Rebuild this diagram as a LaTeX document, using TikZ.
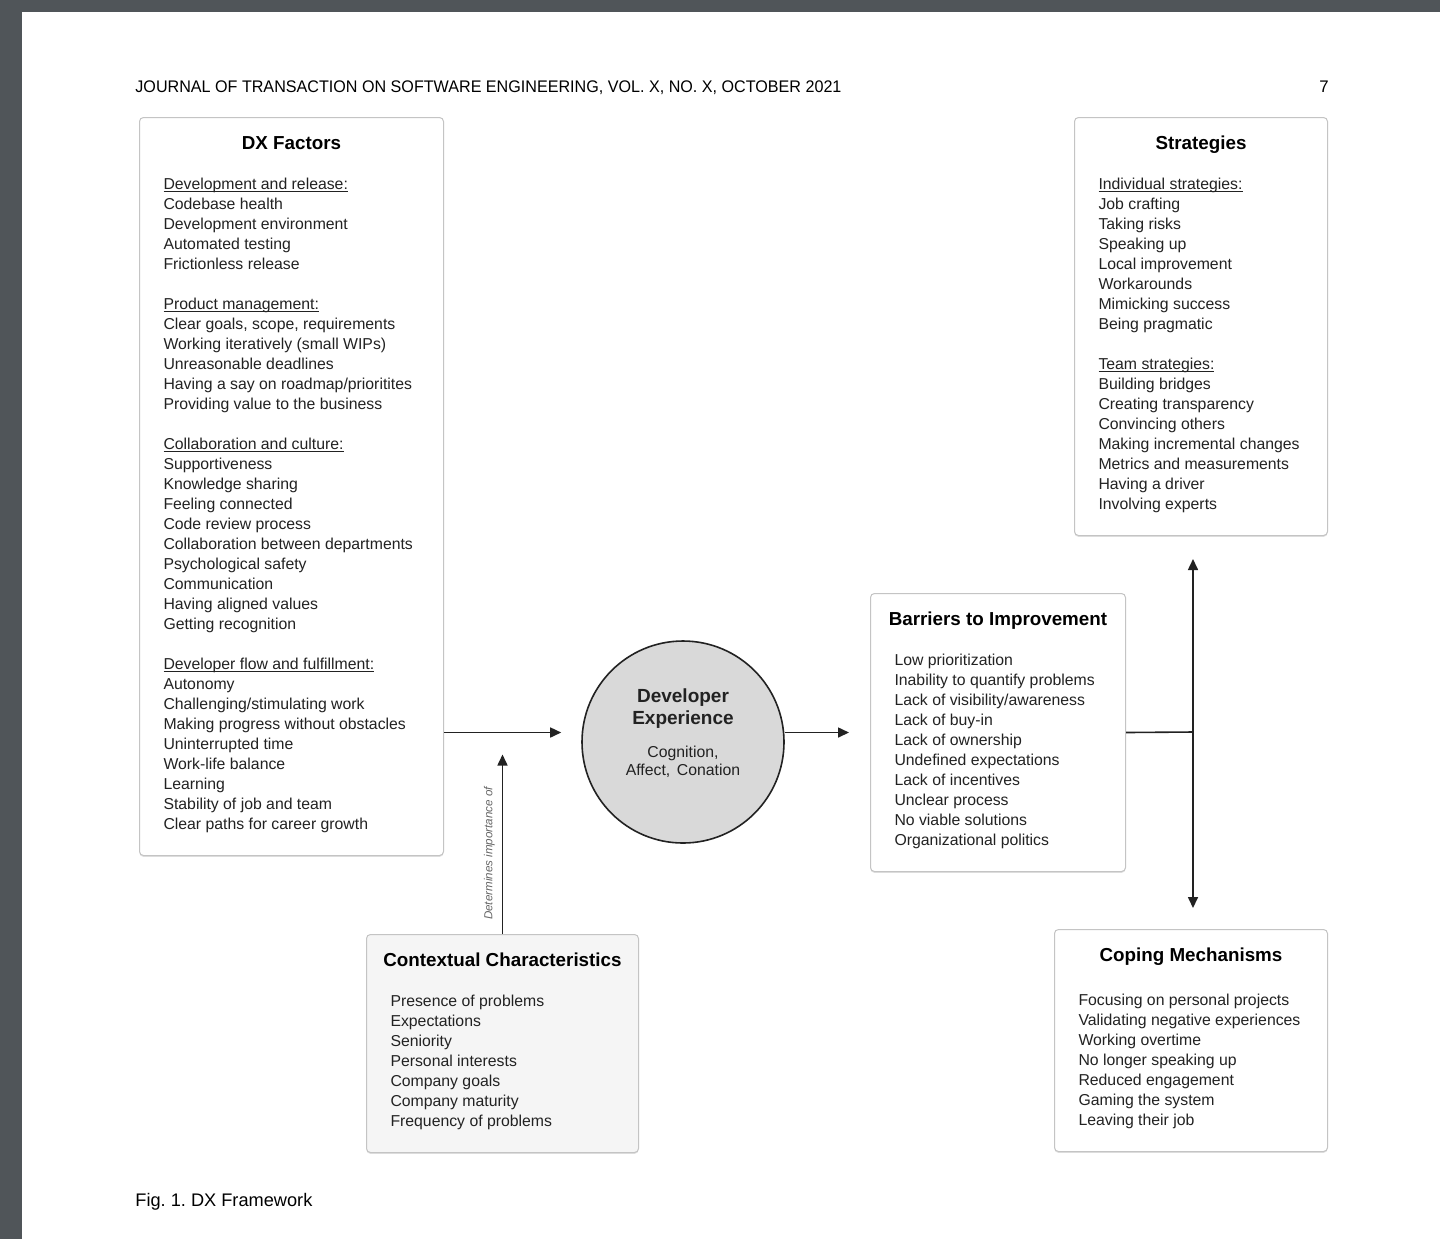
\documentclass[tikz,border=0pt]{standalone}
\usepackage{fontspec}
\setmainfont{Liberation Sans}
\usepackage{graphicx}
\usetikzlibrary{matrix, calc, positioning, arrows.meta, shadows}
\frenchspacing
\definecolor{ink}{HTML}{222222}
\definecolor{frame}{HTML}{C4C4C4}
\definecolor{desk}{HTML}{505559}
\definecolor{ctxfill}{HTML}{F5F5F5}
\definecolor{corefill}{HTML}{D9D9D9}
\newcommand{\listfont}{\fontsize{7.9}{10}\selectfont}
\newcommand{\panelfont}{\fontsize{9.4}{11}\selectfont\bfseries}
\newcommand{\subhead}[1]{\setbox0\hbox{#1}\rlap{\rule[-1.3pt]{\wd0}{0.35pt}}\box0}
\newcommand{\boxtitle}[1]{\makebox[0pt]{#1}}
\tikzset{
panel/.style={
  matrix of nodes,
  draw=frame, line width=0.5pt, rounded corners=2pt, fill=white,
  drop shadow={shadow xshift=0pt, shadow yshift=-0.7pt, opacity=0.3, fill=black!40},
  inner xsep=12pt, inner ysep=0pt,
  row sep=0pt,
  nodes={inner sep=0pt, anchor=base west, text height=7pt, text depth=3pt, font=\listfont, text=ink},
  nodes in empty cells
},
row 1/.style={nodes={font=\panelfont, text=black, text height=16pt, text depth=13pt}},
panel width/.style={row 1/.append style={nodes={minimum width=#1}}},
core/.style={circle, draw=ink, line width=0.8pt, fill=corefill, minimum size=101pt,
  inner sep=0pt, text width=70pt, align=center, text=ink},
flow/.style={draw=ink, line width=0.8pt, -{Triangle[length=5.5pt, width=5pt]}},
link/.style={draw=ink, line width=0.8pt},
note/.style={font=\itshape\fontsize{5.8}{7}\selectfont, text=black!60, inner xsep=0pt, inner ysep=3.5pt},
pagehead/.style={font=\fontsize{8.4}{10}\selectfont, text=black, inner sep=0pt},
caption/.style={font=\fontsize{9.1}{11}\selectfont, text=black, inner sep=0pt}
}

\begin{document}
\begin{tikzpicture}[x=0.5pt, y=-0.5pt]
\useasboundingbox (0,0) rectangle (1440,1239);
\fill[desk] (0,0) rectangle (1440,1239);
\fill[white] (22,12) rectangle (1440,1239);

% running head
\node[pagehead, anchor=base west] (journal) at (135,92) {\resizebox{353pt}{\height}{JOURNAL OF TRANSACTION ON SOFTWARE ENGINEERING, VOL. X, NO. X, OCTOBER 2021}};
\node[pagehead, anchor=base east] (pageno) at (1329,92) {7};

% DX factors
\matrix (dx) [panel, panel width=128pt, anchor=north west] at (139,117) {
  \boxtitle{DX Factors} \\
  \subhead{Development and release:} \\
  Codebase health \\
  Development environment \\
  Automated testing \\
  Frictionless release \\
  \\
  \subhead{Product management:} \\
  Clear goals, scope, requirements \\
  Working iteratively (small WIPs) \\
  Unreasonable deadlines \\
  Having a say on roadmap/prioritites \\
  Providing value to the business \\
  \\
  \subhead{Collaboration and culture:} \\
  Supportiveness \\
  Knowledge sharing \\
  Feeling connected \\
  Code review process \\
  Collaboration between departments \\
  Psychological safety \\
  Communication \\
  Having aligned values \\
  Getting recognition \\
  \\
  \subhead{Developer flow and fulfillment:} \\
  Autonomy \\
  Challenging/stimulating work \\
  Making progress without obstacles \\
  Uninterrupted time \\
  Work-life balance \\
  Learning \\
  Stability of job and team \\
  Clear paths for career growth \\
  \\
};

% strategies
\matrix (strat) [panel, panel width=102.5pt, anchor=north west] at (1074,117) {
  \boxtitle{Strategies} \\
  \subhead{Individual strategies:} \\
  Job crafting \\
  Taking risks \\
  Speaking up \\
  Local improvement \\
  Workarounds \\
  Mimicking success \\
  Being pragmatic \\
  \\
  \subhead{Team strategies:} \\
  Building bridges \\
  Creating transparency \\
  Convincing others \\
  Making incremental changes \\
  Metrics and measurements \\
  Having a driver \\
  Involving experts \\
  \\
};

% barriers
\matrix (barrier) [panel, panel width=103.5pt, anchor=north west] at (870,593) {
  \boxtitle{Barriers to Improvement} \\
  Low prioritization \\
  Inability to quantify problems \\
  Lack of visibility/awareness \\
  Lack of buy-in \\
  Lack of ownership \\
  Undefined expectations \\
  Lack of incentives \\
  Unclear process \\
  No viable solutions \\
  Organizational politics \\
  \\
};

% contextual characteristics
\matrix (ctx) [panel, panel width=112pt, fill=ctxfill, anchor=north west] at (366,934) {
  \boxtitle{Contextual Characteristics} \\
  Presence of problems \\
  Expectations \\
  Seniority \\
  Personal interests \\
  Company goals \\
  Company maturity \\
  Frequency of problems \\
  \\
};

% coping mechanisms
\matrix (cope) [panel, panel width=112.5pt, row 1/.append style={nodes={text depth=15pt}}, anchor=north west] at (1054,929) {
  \boxtitle{Coping Mechanisms} \\
  Focusing on personal projects \\
  Validating negative experiences \\
  Working overtime \\
  No longer speaking up \\
  Reduced engagement \\
  Gaming the system \\
  Leaving their job \\
  \\
};

% developer experience
\node[core] (dxp) at (683,742) {%
  {\fontsize{9.5}{11}\selectfont\bfseries Developer\\Experience\par}\vspace{7.5pt}%
  {\fontsize{7.9}{9}\selectfont \mbox{Cognition,}\\\mbox{Affect, Conation}\par}\vspace{9pt}};

% connectors
\coordinate (split) at (1193,732);
\draw[flow, shorten >=10pt] (dx.east |- barrier.west) -- (dxp.west |- barrier.west);
\draw[flow, shorten >=10.5pt] (dxp.east |- barrier.west) -- (barrier.west);
\draw[flow, shorten >=11pt] (ctx.north) -- node[note, pos=0.4, rotate=90, anchor=south] {Determines importance of} (ctx.north |- barrier.west);
\draw[link] (barrier.east) -- (split);
\draw[flow, shorten >=11.5pt] (split) -- (split |- strat.south);
\draw[flow, shorten >=10.5pt] (split) -- (split |- cope.north);

% caption
\node[caption, anchor=base west] (fig) at (135,1206) {Fig. 1. DX Framework};
\end{tikzpicture}
\end{document}
